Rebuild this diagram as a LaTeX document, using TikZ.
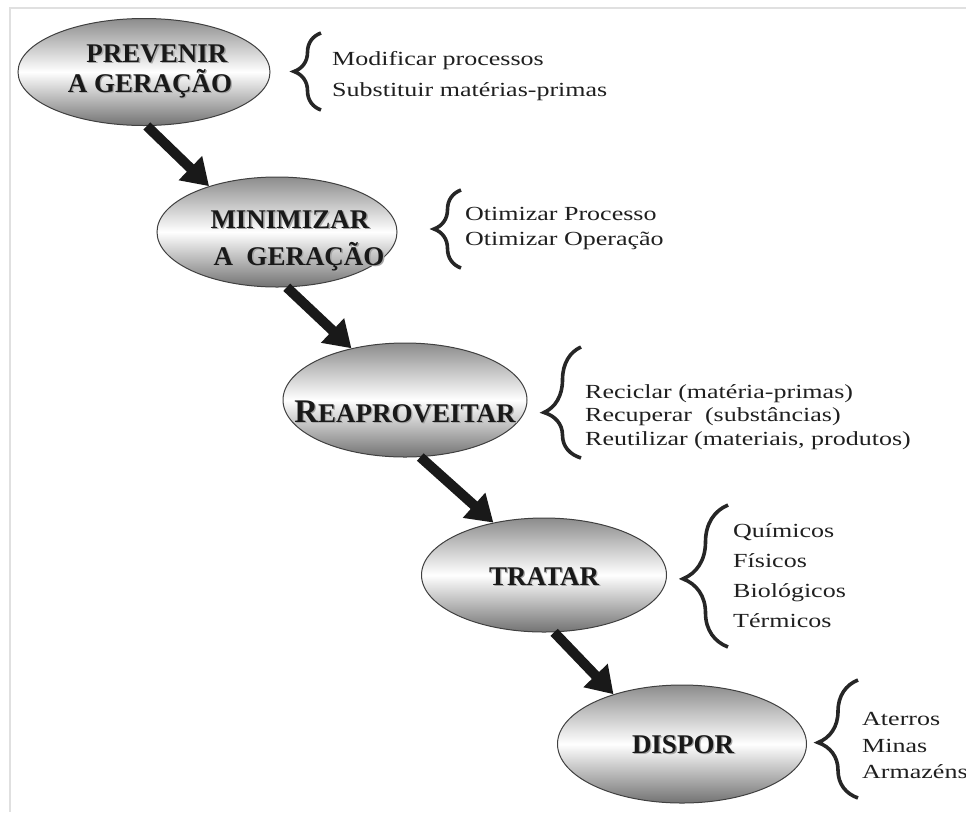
\documentclass[tikz,border=0pt]{standalone}
\usepackage{fontspec}
\setmainfont{Liberation Serif}
\newfontfamily\itemfont[FakeStretch=1.3]{Liberation Serif}
\usetikzlibrary{shapes.geometric, arrows.meta, decorations.pathreplacing}

\newcommand\embossed[1]{\leavevmode\rlap{\kern1.3pt\raisebox{-1.3pt}{\color{black!35}#1}}#1}

\tikzset{
  stage/.style={ellipse, draw=black!75, line width=1pt, top color=black!45, bottom color=black!55, middle color=white, inner sep=0pt},
  stagelabel/.style={anchor=base, font=\fontsize{27}{30}\selectfont\bfseries, text=black!90, inner sep=0pt},
  itemtext/.style={anchor=base west, font=\itemfont\fontsize{20}{24}\selectfont, text=black!88, inner sep=0pt},
  bigarrow/.style={line width=10pt, -{Triangle[length=26pt,width=32pt]}, black!90},
  bracebar/.style 2 args={decorate, decoration={brace, amplitude=#1, aspect=#2}, line width=3.6pt, black!85},
  framelinestyle/.style={black!12, line width=2pt}
}

\begin{document}
\begin{tikzpicture}[x=1pt, y=-1pt]
\useasboundingbox (0,0) rectangle (966,812);
\draw[framelinestyle] (10,812) -- (10,8) -- (966,8);

% ellipses
\node[stage, minimum width=252pt, minimum height=107pt] (e1) at (144,72) {};
\node[stage, minimum width=240pt, minimum height=110pt] (e2) at (277,232) {};
\node[stage, minimum width=244pt, minimum height=114pt] (e3) at (405,400) {};
\node[stage, minimum width=245pt, minimum height=114pt] (e4) at (544,575) {};
\node[stage, minimum width=249pt, minimum height=118pt] (e5) at (682,744) {};

% labels
\node[stagelabel] (l1a) at (157,62) {\embossed{PREVENIR}};
\node[stagelabel] (l1b) at (150,92) {\embossed{A GERAÇÃO}};
\node[stagelabel] (l2a) at (290,228) {\embossed{MINIMIZAR}};
\node[stagelabel] (l2b) at (299,265) {\embossed{A\ \ GERAÇÃO}};
\node[stagelabel] (l3) at (405,422) {\embossed{{\fontsize{33}{33}\selectfont R}EAPROVEITAR}};
\node[stagelabel] (l4) at (544,585) {\embossed{TRATAR}};
\node[stagelabel] (l5) at (683,753) {\embossed{DISPOR}};

% arrows
\draw[bigarrow] (e1.-87) -- (e2.146);
\draw[bigarrow] (e2.-80) -- (e3.136);
\draw[bigarrow] (e3.-75) -- (e4.134);
\draw[bigarrow] (e4.-80) -- (e5.144);

% braces
\draw[bracebar={27pt}{0.5}] (321,110) -- (321,33);
\draw[bracebar={27pt}{0.5}] (461,268) -- (461,190);
\draw[bracebar={37pt}{0.41}] (581,458) -- (581,347);
\draw[bracebar={45pt}{0.48}] (728,647) -- (728,505);
\draw[bracebar={40pt}{0.47}] (858,798) -- (858,680);

% item texts
\node[itemtext] (a1) at (332,65) {Modificar processos};
\node[itemtext] (a2) at (332,96) {Substituir matérias-primas};
\node[itemtext] (b1) at (465,220) {Otimizar Processo};
\node[itemtext] (b2) at (465,245) {Otimizar Operação};
\node[itemtext] (c1) at (585,398) {Reciclar (matéria-primas)};
\node[itemtext] (c2) at (585,421) {Recuperar\ \ (substâncias)};
\node[itemtext] (c3) at (585,445) {Reutilizar (materiais, produtos)};
\node[itemtext] (d1) at (733,537) {Químicos};
\node[itemtext] (d2) at (733,567) {Físicos};
\node[itemtext] (d3) at (733,597) {Biológicos};
\node[itemtext] (d4) at (733,627) {Térmicos};
\node[itemtext] (f1) at (862,725) {Aterros};
\node[itemtext] (f2) at (862,752) {Minas};
\node[itemtext] (f3) at (862,778) {Armazéns};
\end{tikzpicture}
\end{document}
